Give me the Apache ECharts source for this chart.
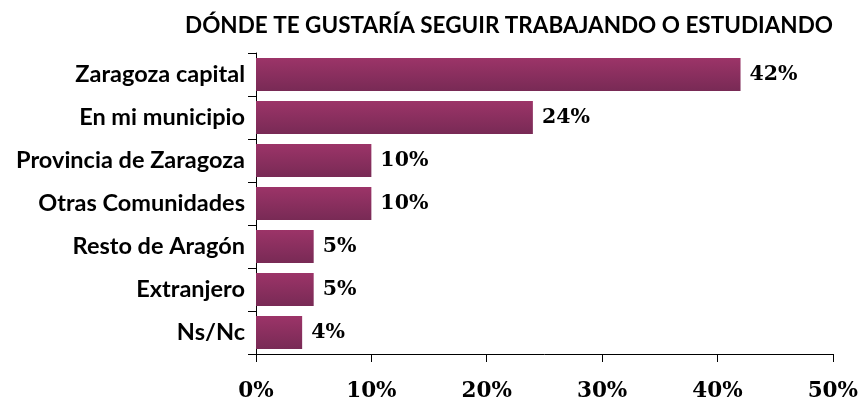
<!DOCTYPE html>
<html>
<head>
<meta charset="utf-8">
<script src="https://cdn.jsdelivr.net/npm/echarts@6/dist/echarts.min.js"></script>
<style>
html, body { margin: 0; padding: 0; background: #fff; }
#chart { width: 861px; height: 403px; }
</style>
</head>
<body>
<div id="chart"></div>
<script>
// datos del gráfico
var categorias = ['Zaragoza capital', 'En mi municipio', 'Provincia de Zaragoza', 'Otras Comunidades', 'Resto de Aragón', 'Extranjero', 'Ns/Nc'];
var valores = [42, 24, 10, 10, 5, 5, 4];
var ticksX = [0, 10, 20, 30, 40, 50];

var chart = echarts.init(document.getElementById('chart'));

var option = {
	animation : false,
	title : {
		text : 'DÓNDE TE GUSTARÍA SEGUIR TRABAJANDO O ESTUDIANDO',
		left : 504,
		top : 9,
		textAlign : 'center',
		textStyle : {
			fontFamily : 'Lato',
			fontWeight : 'bold',
			fontSize : 22.5,
			color : '#000'
		}
	},
	grid : {
		left : 256,
		right : 27,
		top : 53,
		bottom : 49,
		containLabel : false
	},
	xAxis : {
		type : 'value',
		min : ticksX[0],
		max : ticksX[ticksX.length - 1],
		interval : 10,
		splitLine : { show : false },
		axisLine : { show : true, lineStyle : { color : '#000', width : 1 } },
		axisTick : { show : true, length : 8, lineStyle : { color : '#000' } },
		axisLabel : {
			margin : 26,
			formatter : '{value}%',
			fontFamily : 'DejaVu Serif',
			fontWeight : 'bold',
			fontSize : 21.5,
			color : '#000'
		}
	},
	yAxis : {
		type : 'category',
		inverse : true,
		data : categorias,
		axisLine : { show : true, lineStyle : { color : '#000', width : 1 } },
		axisTick : { show : true, length : 8, lineStyle : { color : '#000' } },
		axisLabel : {
			margin : 11,
			fontFamily : 'Lato',
			fontWeight : 'bold',
			fontSize : 23.5,
			color : '#000'
		}
	},
	series : [ {
		type : 'bar',
		data : valores,
		barCategoryGap : '23%',
		itemStyle : {
			color : new echarts.graphic.LinearGradient(0, 0, 0, 1, [
				{ offset : 0, color : '#9c3468' },
				{ offset : 1, color : '#782a55' }
			])
		},
		label : {
			show : true,
			position : 'right',
			distance : 9,
			formatter : '{c}%',
			fontFamily : 'DejaVu Serif',
			fontWeight : 'bold',
			fontSize : 20.5,
			color : '#000'
		}
	} ]
};

chart.setOption(option);
</script>
</body>
</html>
